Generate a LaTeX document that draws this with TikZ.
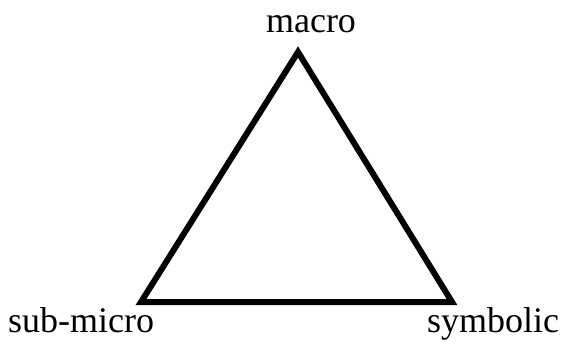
\documentclass[tikz,border=0pt]{standalone}
\usepackage{fontspec}
\setmainfont{Liberation Serif}
\usetikzlibrary{positioning}

\tikzset{
    edgeline/.style={line width=6pt, line join=miter, black},
    cornerlabel/.style={font=\fontsize{36}{40}\selectfont, inner sep=0pt}
}

\begin{document}
\begin{tikzpicture}[x=1pt, y=-1pt]
    \useasboundingbox (0,0) rectangle (564,341);

    % Corners of the triangle
    \coordinate (macro) at (298,52);
    \coordinate (submicro) at (141,302);
    \coordinate (symbolic) at (452,302);

    % Labels
    \node[cornerlabel, anchor=base] (macrolabel) at (311,32) {macro};
    \node[cornerlabel, anchor=base west] (submicrolabel) at (8,332) {sub-micro};
    \node[cornerlabel, anchor=base west] (symboliclabel) at (427,332) {symbolic};

    % Triangle
    \draw[edgeline] (macro) -- (submicro) -- (symbolic) -- cycle;
\end{tikzpicture}
\end{document}
